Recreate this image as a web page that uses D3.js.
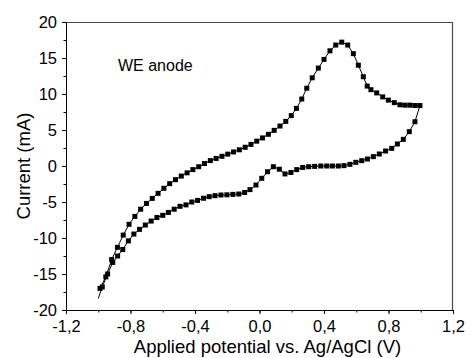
<!DOCTYPE html>
<html>
<head>
<meta charset="utf-8">
<script src="https://cdn.jsdelivr.net/npm/d3@7"></script>
<style>
  body { margin: 0; background: #fff; }
  text { font-family: "Liberation Sans", Arial, sans-serif; fill: #000; }
</style>
</head>
<body>
<div id="chart"></div>
<script>
// Forward scan (anodic), potential in V and current in mA
const fwdV = [-0.989,-0.953,-0.917,-0.881,-0.845,-0.809,-0.773,-0.737,-0.701,-0.665,-0.629,-0.593,-0.557,-0.521,-0.485,-0.449,-0.413,-0.377,-0.341,-0.305,-0.269,-0.233,-0.197,-0.161,-0.125,-0.089,-0.053,-0.017,0.019,0.055,0.091,0.127,0.163,0.197,0.229,0.262,0.293,0.327,0.365,0.400,0.437,0.473,0.510,0.547,0.582,0.613,0.644,0.668,0.691,0.727,0.764,0.799,0.836,0.871,0.902,0.933,0.964,0.995];
const fwdI = [-17.0,-15.4,-13.0,-11.3,-9.6,-8.1,-7.0,-6.0,-5.2,-4.5,-3.8,-3.1,-2.45,-1.9,-1.4,-0.95,-0.5,-0.1,0.35,0.75,1.05,1.35,1.65,1.95,2.25,2.6,3.0,3.45,3.9,4.4,4.95,5.55,6.2,7.0,8.0,9.3,10.8,12.25,13.6,14.8,16.0,16.8,17.2,16.8,15.6,14.0,12.4,11.1,10.6,10.15,9.6,9.15,8.8,8.5,8.45,8.45,8.4,8.4];

// Reverse scan (cathodic)
const revV = [0.964,0.929,0.892,0.855,0.820,0.782,0.743,0.706,0.669,0.634,0.597,0.561,0.524,0.489,0.452,0.417,0.380,0.342,0.305,0.268,0.231,0.195,0.158,0.123,0.086,0.050,0.014,-0.022,-0.059,-0.092,-0.128,-0.165,-0.202,-0.239,-0.276,-0.312,-0.347,-0.384,-0.420,-0.456,-0.493,-0.529,-0.565,-0.600,-0.636,-0.672,-0.708,-0.744,-0.779,-0.813,-0.848,-0.880,-0.910,-0.942,-0.975,-1.000];
const revI = [6.15,4.77,3.7,3.06,2.45,2.08,1.67,1.3,0.97,0.74,0.51,0.23,0.05,0.0,0.0,0.0,0.0,-0.05,-0.1,-0.2,-0.5,-0.9,-1.1,-0.45,-0.1,-0.8,-1.71,-2.64,-3.28,-3.68,-3.89,-3.94,-4.0,-4.03,-4.12,-4.26,-4.48,-4.78,-5.0,-5.4,-5.6,-6.0,-6.45,-6.85,-7.15,-7.65,-8.2,-8.8,-9.45,-10.4,-11.6,-12.5,-13.4,-15.0,-16.8,-18.4];

const xTicks = [-1.2, -0.8, -0.4, 0.0, 0.4, 0.8, 1.2];
const yTicks = [-20, -15, -10, -5, 0, 5, 10, 15, 20];

const width = 467, height = 358;
const margin = { top: 22, right: 14, bottom: 48, left: 66 };
const innerWidth = width - margin.left - margin.right;
const innerHeight = height - margin.top - margin.bottom;

const svg = d3.select("#chart")
    .append("svg")
    .attr("width", width)
    .attr("height", height);

const innerChart = svg.append("g")
    .attr("transform", `translate(${margin.left},${margin.top})`);

const xScale = d3.scaleLinear().domain([-1.2, 1.2]).range([0, innerWidth]);
const yScale = d3.scaleLinear().domain([-20, 20]).range([innerHeight, 0]);

// comma decimals and plain hyphen minus, like the original
const fmtX = d => d3.format(".1f")(d).replace(".", ",").replace("\u2212", "-");
const fmtY = d => String(d);

// Build the scan as one path: forward then reverse
const scan = fwdV.map((v, i) => ({ v, c: fwdI[i] }))
    .concat(revV.map((v, i) => ({ v, c: revI[i] })));

// Frame: top and right in grey
innerChart.append("line")
    .attr("x1", 0).attr("x2", innerWidth).attr("y1", 0.5).attr("y2", 0.5)
    .attr("stroke", "#4a4a4a").attr("stroke-width", 1.2);
innerChart.append("line")
    .attr("x1", innerWidth - 0.5).attr("x2", innerWidth - 0.5).attr("y1", 0).attr("y2", innerHeight)
    .attr("stroke", "#4a4a4a").attr("stroke-width", 1.2);

// Minor ticks (no labels)
const xMinor = d3.range(-1.2, 1.21, 0.2).map(d => +d.toFixed(1));
innerChart.append("g")
    .attr("transform", `translate(0,${innerHeight})`)
    .call(d3.axisBottom(xScale).tickValues(xMinor).tickSize(2.5))
    .call(g => g.select(".domain").remove())
    .call(g => g.selectAll("text").remove());
const yMinor = d3.range(-20, 20.1, 2.5);
innerChart.append("g")
    .call(d3.axisLeft(yScale).tickValues(yMinor).tickSize(2.5))
    .call(g => g.select(".domain").remove())
    .call(g => g.selectAll("text").remove());

// Major axes
const bottomAxis = d3.axisBottom(xScale).tickValues(xTicks).tickSize(4).tickPadding(6).tickFormat(fmtX);
innerChart.append("g")
    .attr("transform", `translate(0,${innerHeight})`)
    .call(bottomAxis)
    .call(g => g.selectAll("text").style("font-size", "16.5px"))
    .call(g => g.selectAll(".domain").attr("d", `M0,0.5H${innerWidth}`));

const leftAxis = d3.axisLeft(yScale).tickValues(yTicks).tickSize(4).tickPadding(5).tickFormat(fmtY);
innerChart.append("g")
    .call(leftAxis)
    .call(g => g.selectAll("text").style("font-size", "16.5px"))
    .call(g => g.selectAll(".domain").attr("d", `M0.5,0V${innerHeight}`));

// Curve
const line = d3.line().x(d => xScale(d.v)).y(d => yScale(d.c));
innerChart.append("path")
    .datum(scan)
    .attr("fill", "none")
    .attr("stroke", "#000")
    .attr("stroke-width", 1)
    .attr("d", line);

// Square markers (the final tail point has none)
const ms = 5;
innerChart.selectAll("rect.marker")
    .data(scan.slice(0, scan.length - 1))
    .join("rect")
    .attr("class", "marker")
    .attr("x", d => xScale(d.v) - ms / 2)
    .attr("y", d => yScale(d.c) - ms / 2)
    .attr("width", ms)
    .attr("height", ms)
    .attr("fill", "#000");

// Annotation
innerChart.append("text")
    .attr("x", 52)
    .attr("y", 49)
    .style("font-size", "16px")
    .text("WE anode");

// Axis labels
svg.append("text")
    .attr("x", margin.left + innerWidth / 2 + 8)
    .attr("y", 353)
    .attr("text-anchor", "middle")
    .style("font-size", "18.5px")
    .text("Applied potential vs. Ag/AgCl (V)");

svg.append("text")
    .attr("transform", `translate(30,${margin.top + innerHeight / 2}) rotate(-90)`)
    .attr("text-anchor", "middle")
    .style("font-size", "18.5px")
    .text("Current (mA)");
</script>
</body>
</html>
